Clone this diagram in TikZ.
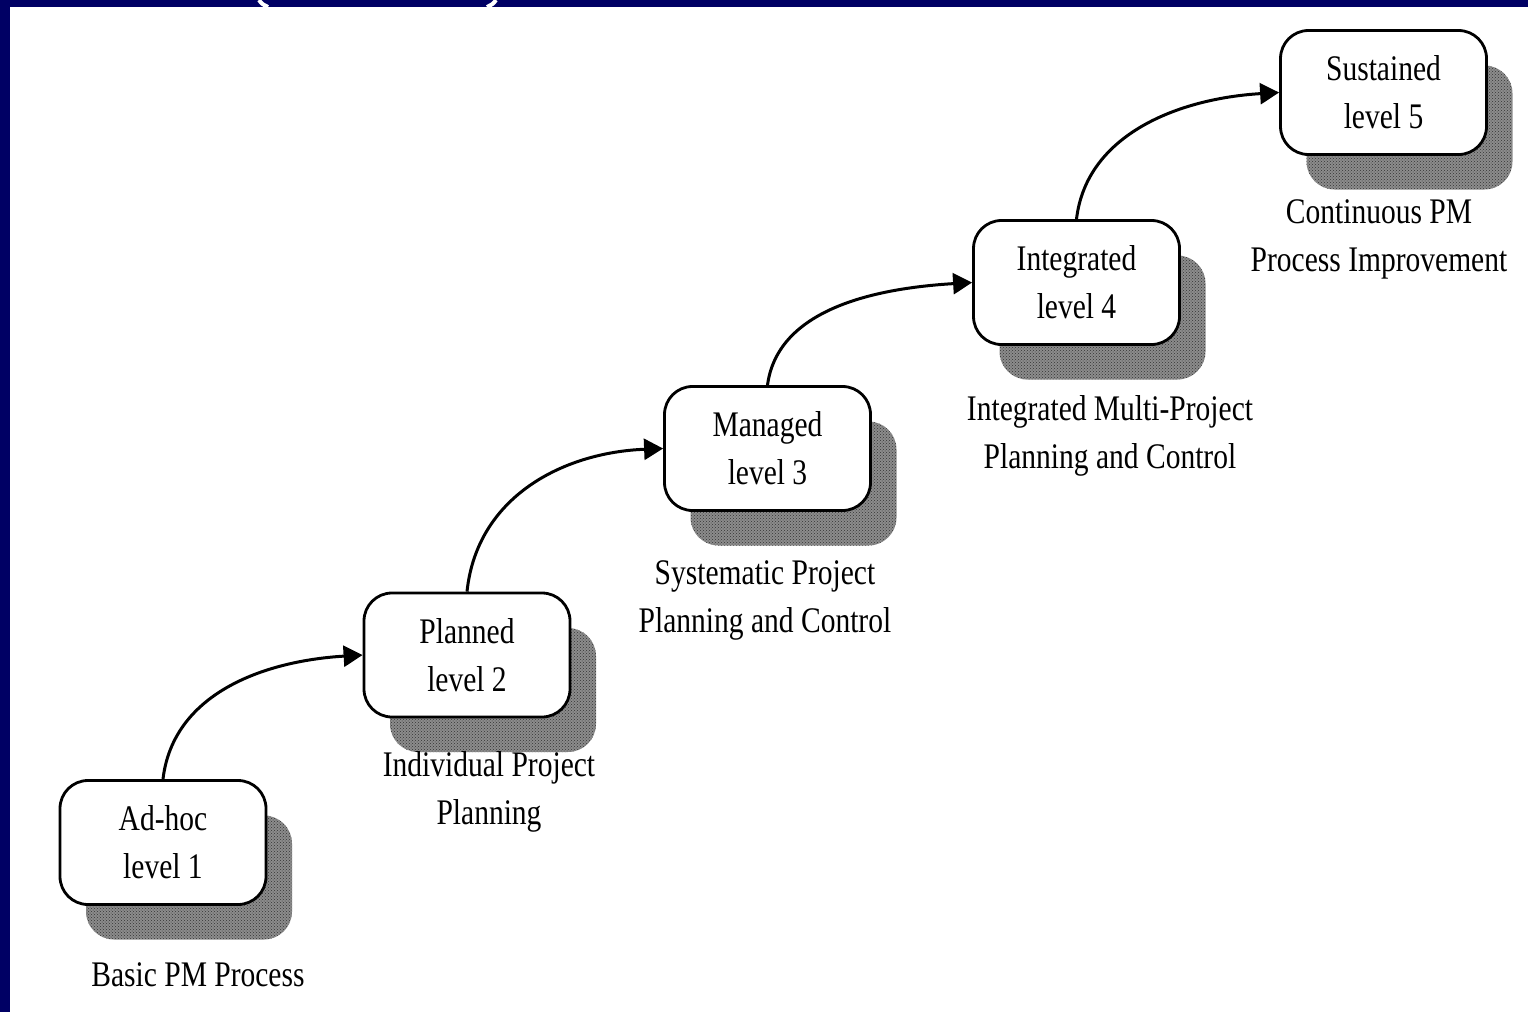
\documentclass[tikz,border=0pt]{standalone}
\usepackage{fontspec}
\setmainfont{Liberation Serif}[FakeStretch=0.82]
\usetikzlibrary{arrows.meta,patterns,shadows}
\definecolor{framenavy}{RGB}{0,0,100}

\begin{document}
\begin{tikzpicture}[x=1pt,y=-1pt,
  txt/.style={font=\fontsize{36}{48}\selectfont, align=center, inner sep=0pt},
  levelbox/.style={txt, draw=black, line width=2.8pt, rounded corners=28pt,
    fill=white, minimum width=206pt, minimum height=124pt,
    drop shadow={shadow xshift=26pt, shadow yshift=-35pt, fill=black!45, opacity=1},
    drop shadow={shadow xshift=26pt, shadow yshift=-35pt, pattern=crosshatch dots,
      pattern color=black!80, opacity=1}},
  steparrow/.style={line width=3pt, -{Triangle[length=19pt,width=21pt]}},
  caption/.style={txt}
]
\useasboundingbox (0,0) rectangle (1528,1012);
\fill[white] (0,0) rectangle (1528,1012);

% frame: top bar and left bar
\fill[framenavy] (0,0) rectangle (1528,7);
\fill[framenavy] (0,0) rectangle (10,1012);
% white outline strokes crossing the top bar
\draw[white, line width=4pt] (259,0) .. controls (262,4) .. (268,7);
\draw[white, line width=4pt] (496,0) .. controls (493,4) .. (487,7);

% the five maturity levels
\node[levelbox] (b1) at (163,842.5)  {Ad-hoc\\level 1};
\node[levelbox] (b2) at (467,655)    {Planned\\level 2};
\node[levelbox] (b3) at (767.5,448.5) {Managed\\level 3};
\node[levelbox] (b4) at (1076.5,282.5) {Integrated\\level 4};
\node[levelbox] (b5) at (1383.5,92.5) {Sustained\\level 5};

% captions
\node[caption] (c1) at (198,975)  {Basic PM Process};
\node[caption] (c2) at (489,792)  {Individual Project\\Planning};
\node[caption] (c3) at (765,600)  {Systematic Project\\Planning and Control};
\node[caption] (c4) at (1110,436) {Integrated Multi-Project\\Planning and Control};
\node[caption] (c5) at (1379,239) {Continuous PM\\Process Improvement};

% step arrows
\draw[steparrow] (b1.north) .. controls +(10,-85) and +(-100,6) .. (b2.west);
\draw[steparrow] (b2.north) .. controls +(10,-95) and +(-100,4) .. (b3.west);
\draw[steparrow] (b3.north) .. controls +(10,-75) and +(-100,6) .. (b4.west);
\draw[steparrow] (b4.north) .. controls +(10,-85) and +(-100,6) .. (b5.west);
\end{tikzpicture}
\end{document}
